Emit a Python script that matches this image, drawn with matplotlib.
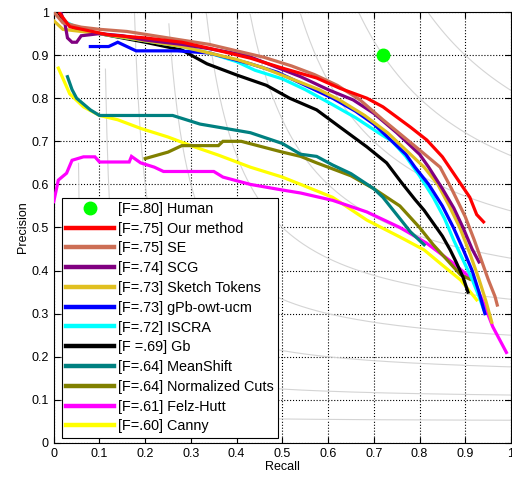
import matplotlib
matplotlib.use("Agg")
import matplotlib.pyplot as plt
import numpy as np

plt.rcParams["font.family"] = ["Liberation Sans", "DejaVu Sans"]

# precision / recall curves
human_r, human_p = 0.72, 0.90

ours_r = [0.013, 0.035, 0.12, 0.20, 0.28, 0.34, 0.43, 0.50, 0.575, 0.626, 0.685, 0.72,
          0.78, 0.816, 0.85, 0.88, 0.91, 0.925, 0.94]
ours_p = [0.997, 0.966, 0.947, 0.94, 0.93, 0.916, 0.893, 0.87, 0.847, 0.823, 0.80, 0.78,
          0.733, 0.703, 0.664, 0.617, 0.57, 0.53, 0.513]

se_r = [0.0, 0.02, 0.06, 0.10, 0.16, 0.22, 0.28, 0.34, 0.40, 0.46, 0.52, 0.57, 0.62, 0.67,
        0.72, 0.76, 0.80, 0.845, 0.87, 0.90, 0.92, 0.935, 0.95, 0.965, 0.97]
se_p = [1.0, 0.975, 0.965, 0.96, 0.955, 0.945, 0.935, 0.925, 0.91, 0.895, 0.875, 0.855,
        0.83, 0.796, 0.75, 0.715, 0.68, 0.64, 0.59, 0.525, 0.47, 0.425, 0.38, 0.34, 0.32]

scg_r = [0.015, 0.025, 0.03, 0.04, 0.05, 0.06, 0.10, 0.15, 0.20, 0.28, 0.34, 0.42, 0.48,
         0.54, 0.60, 0.655, 0.70, 0.75, 0.80, 0.82, 0.85, 0.875, 0.895, 0.915, 0.93]
scg_p = [1.0, 0.97, 0.94, 0.93, 0.93, 0.945, 0.95, 0.945, 0.935, 0.925, 0.915, 0.90, 0.875,
         0.85, 0.82, 0.796, 0.765, 0.72, 0.67, 0.64, 0.59, 0.545, 0.50, 0.45, 0.42]

st_r = [0.0, 0.02, 0.06, 0.10, 0.16, 0.22, 0.28, 0.34, 0.40, 0.46, 0.52, 0.58, 0.625, 0.68,
        0.73, 0.77, 0.81, 0.84, 0.865, 0.888, 0.91, 0.93, 0.945, 0.958]
st_p = [0.98, 0.96, 0.955, 0.95, 0.94, 0.93, 0.92, 0.905, 0.89, 0.87, 0.845, 0.82, 0.796,
        0.76, 0.72, 0.68, 0.64, 0.60, 0.55, 0.50, 0.44, 0.38, 0.33, 0.28]

gpb_r = [0.08, 0.12, 0.14, 0.15, 0.16, 0.18, 0.27, 0.34, 0.43, 0.49, 0.54, 0.61, 0.66, 0.70,
         0.74, 0.77, 0.79, 0.82, 0.85, 0.874, 0.895, 0.915, 0.93, 0.943]
gpb_p = [0.92, 0.92, 0.93, 0.925, 0.92, 0.91, 0.91, 0.905, 0.88, 0.86, 0.835, 0.80, 0.77,
         0.74, 0.70, 0.67, 0.64, 0.60, 0.55, 0.50, 0.45, 0.40, 0.35, 0.30]

iscra_r = [0.02, 0.06, 0.10, 0.16, 0.22, 0.28, 0.34, 0.40, 0.44, 0.50, 0.55, 0.61, 0.66,
           0.71, 0.74, 0.77, 0.80, 0.83, 0.855, 0.875, 0.895, 0.915, 0.93, 0.94]
iscra_p = [0.98, 0.96, 0.95, 0.94, 0.93, 0.92, 0.905, 0.885, 0.865, 0.845, 0.82, 0.785,
           0.755, 0.72, 0.70, 0.665, 0.62, 0.57, 0.52, 0.47, 0.425, 0.38, 0.34, 0.31]

gb_r = [0.01, 0.02, 0.05, 0.10, 0.15, 0.20, 0.28, 0.335, 0.40, 0.465, 0.516, 0.575, 0.626,
        0.685, 0.728, 0.76, 0.79, 0.81, 0.83, 0.85, 0.867, 0.88, 0.895, 0.906]
gb_p = [1.0, 0.98, 0.96, 0.95, 0.94, 0.93, 0.912, 0.88, 0.854, 0.83, 0.80, 0.773, 0.733,
        0.687, 0.65, 0.605, 0.565, 0.54, 0.51, 0.48, 0.448, 0.42, 0.385, 0.35]

ms_r = [0.03, 0.04, 0.05, 0.08, 0.10, 0.20, 0.26, 0.32, 0.43, 0.50, 0.54, 0.575, 0.61,
        0.65, 0.70, 0.72, 0.75, 0.78, 0.80, 0.81]
ms_p = [0.85, 0.82, 0.80, 0.773, 0.76, 0.76, 0.76, 0.74, 0.72, 0.695, 0.67, 0.665, 0.645,
        0.625, 0.59, 0.57, 0.53, 0.49, 0.47, 0.46]

nc_r = [0.20, 0.25, 0.28, 0.36, 0.37, 0.41, 0.50, 0.54, 0.575, 0.65, 0.70, 0.757, 0.80,
        0.83, 0.86, 0.89, 0.91]
nc_p = [0.66, 0.675, 0.69, 0.69, 0.70, 0.70, 0.675, 0.665, 0.65, 0.62, 0.59, 0.55, 0.50,
        0.46, 0.425, 0.39, 0.38]

fh_r = [0.0, 0.01, 0.028, 0.04, 0.065, 0.09, 0.10, 0.165, 0.17, 0.19, 0.22, 0.24, 0.35,
        0.37, 0.43, 0.50, 0.54, 0.61, 0.685, 0.757, 0.815, 0.874, 0.917, 0.94, 0.96, 0.99]
fh_p = [0.56, 0.61, 0.626, 0.656, 0.664, 0.664, 0.652, 0.652, 0.665, 0.65, 0.64, 0.63, 0.63,
        0.617, 0.60, 0.587, 0.58, 0.563, 0.536, 0.50, 0.464, 0.417, 0.378, 0.325, 0.27, 0.21]

canny_r = [0.01, 0.035, 0.065, 0.10, 0.14, 0.19, 0.25, 0.30, 0.36, 0.43, 0.50, 0.54, 0.61,
           0.685, 0.757, 0.81, 0.845, 0.89, 0.925]
canny_p = [0.87, 0.81, 0.78, 0.76, 0.75, 0.73, 0.71, 0.69, 0.668, 0.64, 0.617, 0.60, 0.57,
           0.517, 0.478, 0.448, 0.417, 0.378, 0.332]

methods = [
    ("[F=.75] Our method", ours_r, ours_p, "#ff0000"),
    ("[F=.75] SE", se_r, se_p, "#cc6e55"),
    ("[F=.74] SCG", scg_r, scg_p, "#800080"),
    ("[F=.73] Sketch Tokens", st_r, st_p, "#e0c020"),
    ("[F=.73] gPb-owt-ucm", gpb_r, gpb_p, "#0000ff"),
    ("[F=.72] ISCRA", iscra_r, iscra_p, "#00ffff"),
    ("[F =.69] Gb", gb_r, gb_p, "#000000"),
    ("[F=.64] MeanShift", ms_r, ms_p, "#008080"),
    ("[F=.64] Normalized Cuts", nc_r, nc_p, "#808000"),
    ("[F=.61] Felz-Hutt", fh_r, fh_p, "#ff00ff"),
    ("[F=.60] Canny", canny_r, canny_p, "#ffff00"),
]

fig = plt.figure(figsize=(5.12, 4.83), dpi=100)
ax = fig.add_axes([0.105, 0.083, 0.893, 0.892])

# iso-F contours
for f in np.arange(0.1, 1.0, 0.1):
    r = np.linspace(f / 2 + 1e-3, 1, 300)
    p = f * r / (2 * r - f)
    m = (p >= 0) & (p <= 1)
    ax.plot(r[m], p[m], color="#d4d4d4", lw=0.8, zorder=1)

handles = []
h, = ax.plot([human_r], [human_p], "o", color="#00ff00", ms=9, zorder=5,
             label="[F=.80] Human")
handles.append(h)
# draw back to front so the top methods sit above the others
lines = {}
for name, r, p, c in reversed(methods):
    lines[name], = ax.plot(r, p, color=c, lw=2.3, label=name, zorder=3,
                           solid_joinstyle="miter")
handles += [lines[m[0]] for m in methods]

ax.set_xlim(0, 1)
ax.set_ylim(0, 1)
ticks = np.round(np.arange(0, 1.01, 0.1), 1)
labels = ["0"] + ["%.1f" % t for t in ticks[1:-1]] + ["1"]
ax.set_xticks(ticks)
ax.set_xticklabels(labels)
ax.set_yticks(ticks)
ax.set_yticklabels(labels)
ax.tick_params(direction="in", labelsize=9, length=4, top=True, right=True)
ax.grid(True, linestyle=":", color="black", lw=0.8)
ax.set_axisbelow(True)
ax.set_xlabel("Recall", fontsize=9, labelpad=1)
ax.set_ylabel("Precision", fontsize=9, labelpad=2)

leg = ax.legend(handles=handles, loc="lower left", bbox_to_anchor=(0.0175, 0.012),
                borderaxespad=0, fontsize=10.4, frameon=True, fancybox=False,
                framealpha=1, edgecolor="black", handlelength=3.3, labelspacing=0.40,
                handletextpad=0.3, borderpad=0.3, numpoints=1)
leg.get_frame().set_linewidth(0.8)
for lh in leg.get_lines():
    lh.set_linewidth(3.2)

fig.savefig("out.png", dpi=100)
